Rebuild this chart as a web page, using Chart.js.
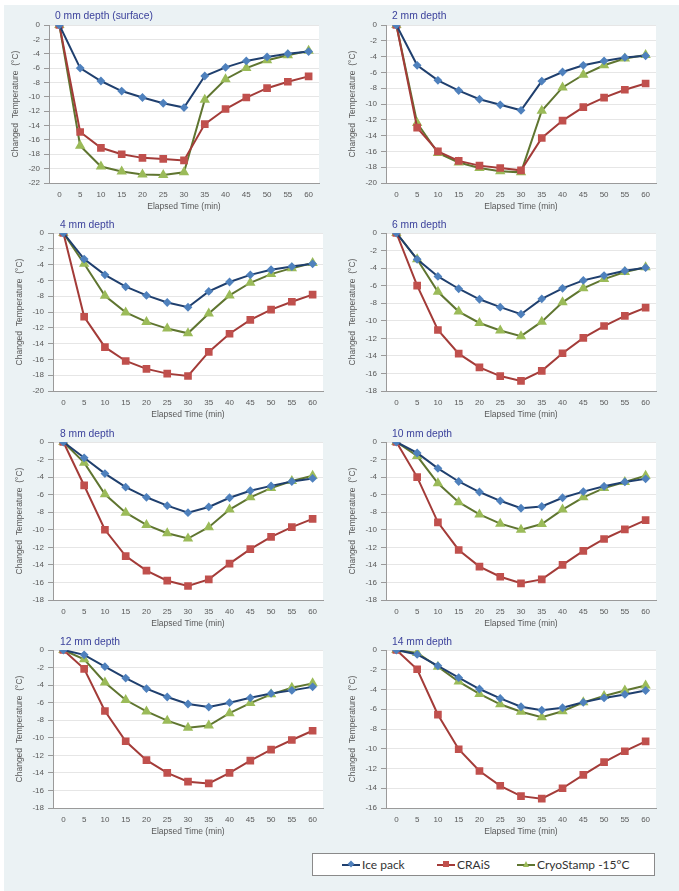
<!DOCTYPE html>
<html>
<head>
<meta charset="utf-8">
<script src="https://cdn.jsdelivr.net/npm/chart.js@4.4.1/dist/chart.umd.min.js"></script>
<style>
    html, body { margin: 0; padding: 0; background: #ffffff; }
    #page { position: relative; width: 679px; height: 891px; overflow: hidden; background: #ffffff; }
    #bg { position: absolute; left: 4px; top: 5px; right: 0; bottom: 0; background: #ebf2f4; }
    .panel { position: absolute; width: 322px; height: 197px; }
    .ptitle { position: absolute; font: 10.3px "Liberation Sans", Arial, sans-serif; color: #3c429c; white-space: nowrap; }
    #legend { position: absolute; left: 312px; top: 853px; width: 343px; height: 23px; background: #ffffff; border: 1px solid #8a8a8a; box-sizing: border-box; }
    .lg-item { position: absolute; top: 4px; font: 12px Lato, "Open Sans", sans-serif; color: #333333; height: 14px; line-height: 14px; }
    .lg-line { position: absolute; top: 6px; width: 18px; height: 2px; }
    .lg-mark { position: absolute; top: 3px; left: 6px; width: 6px; height: 6px; }
    .lg-text { position: absolute; left: 20px; top: 0; white-space: nowrap; }
</style>
</head>
<body>
<div id="page">
    <div id="bg"></div>
    <div id="legend">
        <div class="lg-item" style="left:29px;">
            <div class="lg-line" style="background:#1f3f6e;"></div>
            <div class="lg-mark" style="background:#4f81bd; transform: rotate(45deg) scale(0.8);"></div>
            <span class="lg-text">Ice pack</span>
        </div>
        <div class="lg-item" style="left:124px;">
            <div class="lg-line" style="background:#a33b38;"></div>
            <div class="lg-mark" style="background:#c0504d;"></div>
            <span class="lg-text">CRAiS</span>
        </div>
        <div class="lg-item" style="left:204px;">
            <div class="lg-line" style="background:#5f7530;"></div>
            <div class="lg-mark" style="background:#9bbb59; clip-path: polygon(50% 0, 100% 100%, 0 100%);"></div>
            <span class="lg-text">CryoStamp -15°C</span>
        </div>
    </div>
</div>
<script>
// Elapsed time categories (min)
const times = ['0', '5', '10', '15', '20', '25', '30', '35', '40', '45', '50', '55', '60'];

// Panel titles and y-axis minimum
const depthTitles = ['0 mm depth (surface)', '2 mm depth', '4 mm depth', '6 mm depth',
                     '8 mm depth', '10 mm depth', '12 mm depth', '14 mm depth'];
const yMins = [-22, -20, -20, -18, -18, -18, -18, -16];

// Ice pack per depth
const icePack0  = [0, -6.0, -7.8, -9.2, -10.1, -10.9, -11.5, -7.1, -5.9, -5.0, -4.45, -4.0, -3.7];
const icePack2  = [0, -5.1, -7.0, -8.3, -9.4, -10.1, -10.8, -7.1, -5.95, -5.1, -4.55, -4.1, -3.9];
const icePack4  = [0, -3.3, -5.3, -6.8, -7.9, -8.8, -9.4, -7.4, -6.2, -5.3, -4.65, -4.25, -3.9];
const icePack6  = [0, -3.0, -4.95, -6.35, -7.55, -8.45, -9.25, -7.5, -6.3, -5.4, -4.85, -4.3, -3.95];
const icePack8  = [0, -1.8, -3.6, -5.15, -6.3, -7.25, -8.05, -7.4, -6.35, -5.55, -5.0, -4.5, -4.15];
const icePack10 = [0, -1.25, -3.0, -4.5, -5.7, -6.7, -7.55, -7.35, -6.35, -5.65, -5.05, -4.55, -4.2];
const icePack12 = [0, -0.55, -1.9, -3.2, -4.4, -5.35, -6.15, -6.5, -6.0, -5.45, -4.95, -4.6, -4.2];
const icePack14 = [0, -0.45, -1.6, -2.8, -3.95, -4.9, -5.75, -6.1, -5.85, -5.3, -4.85, -4.5, -4.1];

// CRAiS per depth
const crais0  = [0, -14.9, -17.1, -18.0, -18.5, -18.65, -18.85, -13.8, -11.7, -10.1, -8.8, -7.9, -7.15];
const crais2  = [0, -13.0, -16.0, -17.2, -17.8, -18.1, -18.4, -14.3, -12.1, -10.4, -9.2, -8.2, -7.4];
const crais4  = [0, -10.6, -14.45, -16.2, -17.2, -17.8, -18.1, -15.05, -12.75, -11.0, -9.7, -8.7, -7.8];
const crais6  = [0, -6.0, -11.05, -13.75, -15.3, -16.3, -16.85, -15.7, -13.7, -11.95, -10.6, -9.45, -8.5];
const crais8  = [0, -4.95, -10.0, -13.0, -14.65, -15.8, -16.4, -15.65, -13.85, -12.2, -10.8, -9.7, -8.75];
const crais10 = [0, -4.0, -9.15, -12.3, -14.2, -15.35, -16.1, -15.65, -14.0, -12.4, -11.05, -9.95, -8.9];
const crais12 = [0, -2.15, -6.95, -10.4, -12.55, -14.0, -15.0, -15.2, -14.0, -12.6, -11.35, -10.25, -9.2];
const crais14 = [0, -1.95, -6.55, -10.05, -12.25, -13.75, -14.8, -15.05, -14.0, -12.65, -11.35, -10.25, -9.25];

// CryoStamp -15°C per depth
const cryo0  = [0, -16.8, -19.7, -20.4, -20.8, -20.9, -20.5, -10.4, -7.55, -6.0, -4.9, -4.2, -3.6];
const cryo2  = [0, -12.4, -16.2, -17.4, -18.1, -18.5, -18.65, -10.85, -7.9, -6.3, -5.1, -4.25, -3.8];
const cryo4  = [0, -3.9, -7.95, -10.05, -11.25, -12.1, -12.7, -10.2, -7.9, -6.3, -5.2, -4.45, -3.8];
const cryo6  = [0, -3.0, -6.7, -8.95, -10.25, -11.1, -11.75, -10.1, -7.9, -6.3, -5.25, -4.45, -3.9];
const cryo8  = [0, -2.35, -5.95, -8.05, -9.45, -10.4, -11.0, -9.7, -7.7, -6.3, -5.25, -4.45, -3.85];
const cryo10 = [0, -1.6, -4.7, -6.85, -8.25, -9.3, -10.0, -9.35, -7.7, -6.3, -5.25, -4.55, -3.85];
const cryo12 = [0, -1.05, -3.7, -5.7, -7.0, -8.05, -8.85, -8.6, -7.2, -6.05, -5.05, -4.3, -3.8];
const cryo14 = [0, -0.3, -1.7, -3.2, -4.45, -5.5, -6.25, -6.8, -6.2, -5.3, -4.65, -4.1, -3.6];

const icePackSeries = [icePack0, icePack2, icePack4, icePack6, icePack8, icePack10, icePack12, icePack14];
const craisSeries = [crais0, crais2, crais4, crais6, crais8, crais10, crais12, crais14];
const cryoSeries = [cryo0, cryo2, cryo4, cryo6, cryo8, cryo10, cryo12, cryo14];

// Plot area (left, top) of each panel on the page, and title offset
const areaPos = [[49, 25], [386, 25], [53, 233], [386, 233], [53, 442], [386, 442], [53, 650], [386, 650]];
const titlePos = [[55, 10], [392, 10], [60, 219], [392, 219], [60, 428], [392, 428], [60, 636], [392, 636]];

const AXIS_W = 40, AXIS_H = 29, PAD_TOP = 10, PAD_RIGHT = 12;
const tickFont = { family: '"Liberation Sans", Arial, sans-serif', size: 8 };
const titleFont = { family: '"Liberation Sans", Arial, sans-serif', size: 8.5 };

// white plot area like Excel
const plotBg = {
    id: 'plotBg',
    beforeDraw(chart) {
        const { ctx, chartArea: a } = chart;
        ctx.save();
        ctx.fillStyle = '#ffffff';
        ctx.fillRect(a.left, a.top, a.right - a.left, a.bottom - a.top);
        ctx.restore();
    }
};

function makePanel(i) {
    const page = document.getElementById('page');
    const [ax, ay] = areaPos[i];

    const wrap = document.createElement('div');
    wrap.className = 'panel';
    wrap.style.left = (ax - AXIS_W) + 'px';
    wrap.style.top = (ay - PAD_TOP) + 'px';
    const canvas = document.createElement('canvas');
    wrap.appendChild(canvas);
    page.appendChild(wrap);

    const t = document.createElement('div');
    t.className = 'ptitle';
    t.style.left = titlePos[i][0] + 'px';
    t.style.top = titlePos[i][1] + 'px';
    t.textContent = depthTitles[i];
    page.appendChild(t);

    new Chart(canvas.getContext('2d'), {
        type: 'line',
        data: {
            labels: times,
            datasets: [
                {
                    label: 'Ice pack',
                    data: icePackSeries[i],
                    borderColor: '#1f3f6e',
                    backgroundColor: '#4f81bd',
                    pointBorderColor: '#4f81bd',
                    pointStyle: 'rectRot',
                    pointRadius: 3,
                    borderWidth: 2
                },
                {
                    label: 'CRAiS',
                    data: craisSeries[i],
                    borderColor: '#a33b38',
                    backgroundColor: '#c0504d',
                    pointBorderColor: '#c0504d',
                    pointStyle: 'rect',
                    pointRadius: 4,
                    borderWidth: 2
                },
                {
                    label: 'CryoStamp -15°C',
                    data: cryoSeries[i],
                    borderColor: '#5f7530',
                    backgroundColor: '#9bbb59',
                    pointBorderColor: '#9bbb59',
                    pointStyle: 'triangle',
                    pointRadius: 4,
                    borderWidth: 2
                }
            ]
        },
        options: {
            responsive: true,
            maintainAspectRatio: false,
            animation: false,
            layout: { padding: { top: PAD_TOP, right: PAD_RIGHT, left: 0, bottom: 0 } },
            scales: {
                x: {
                    type: 'category',
                    offset: true,
                    grid: { display: false, drawTicks: false },
                    border: { display: true, color: '#9a9a9a', width: 1 },
                    ticks: { color: '#595959', font: tickFont, padding: 7, maxRotation: 0, autoSkip: false },
                    title: { display: true, text: 'Elapsed Time (min)', color: '#595959', font: titleFont, padding: 0 },
                    afterFit(scale) { scale.height = AXIS_H; }
                },
                y: {
                    min: yMins[i],
                    max: 0,
                    ticks: { stepSize: 2, color: '#595959', font: tickFont, padding: 4 },
                    grid: { color: '#e6e6e6', tickColor: '#9a9a9a', tickLength: 5 },
                    border: { display: true, color: '#9a9a9a', width: 1 },
                    title: { display: true, text: 'Changed  Temperature  (°C)', color: '#595959', font: titleFont, padding: { top: 2, bottom: 0 } },
                    afterFit(scale) { scale.width = AXIS_W; }
                }
            },
            plugins: {
                legend: { display: false },
                tooltip: { enabled: false }
            }
        },
        plugins: [plotBg]
    });
}

for (let i = 0; i < depthTitles.length; i++) makePanel(i);
</script>
</body>
</html>
